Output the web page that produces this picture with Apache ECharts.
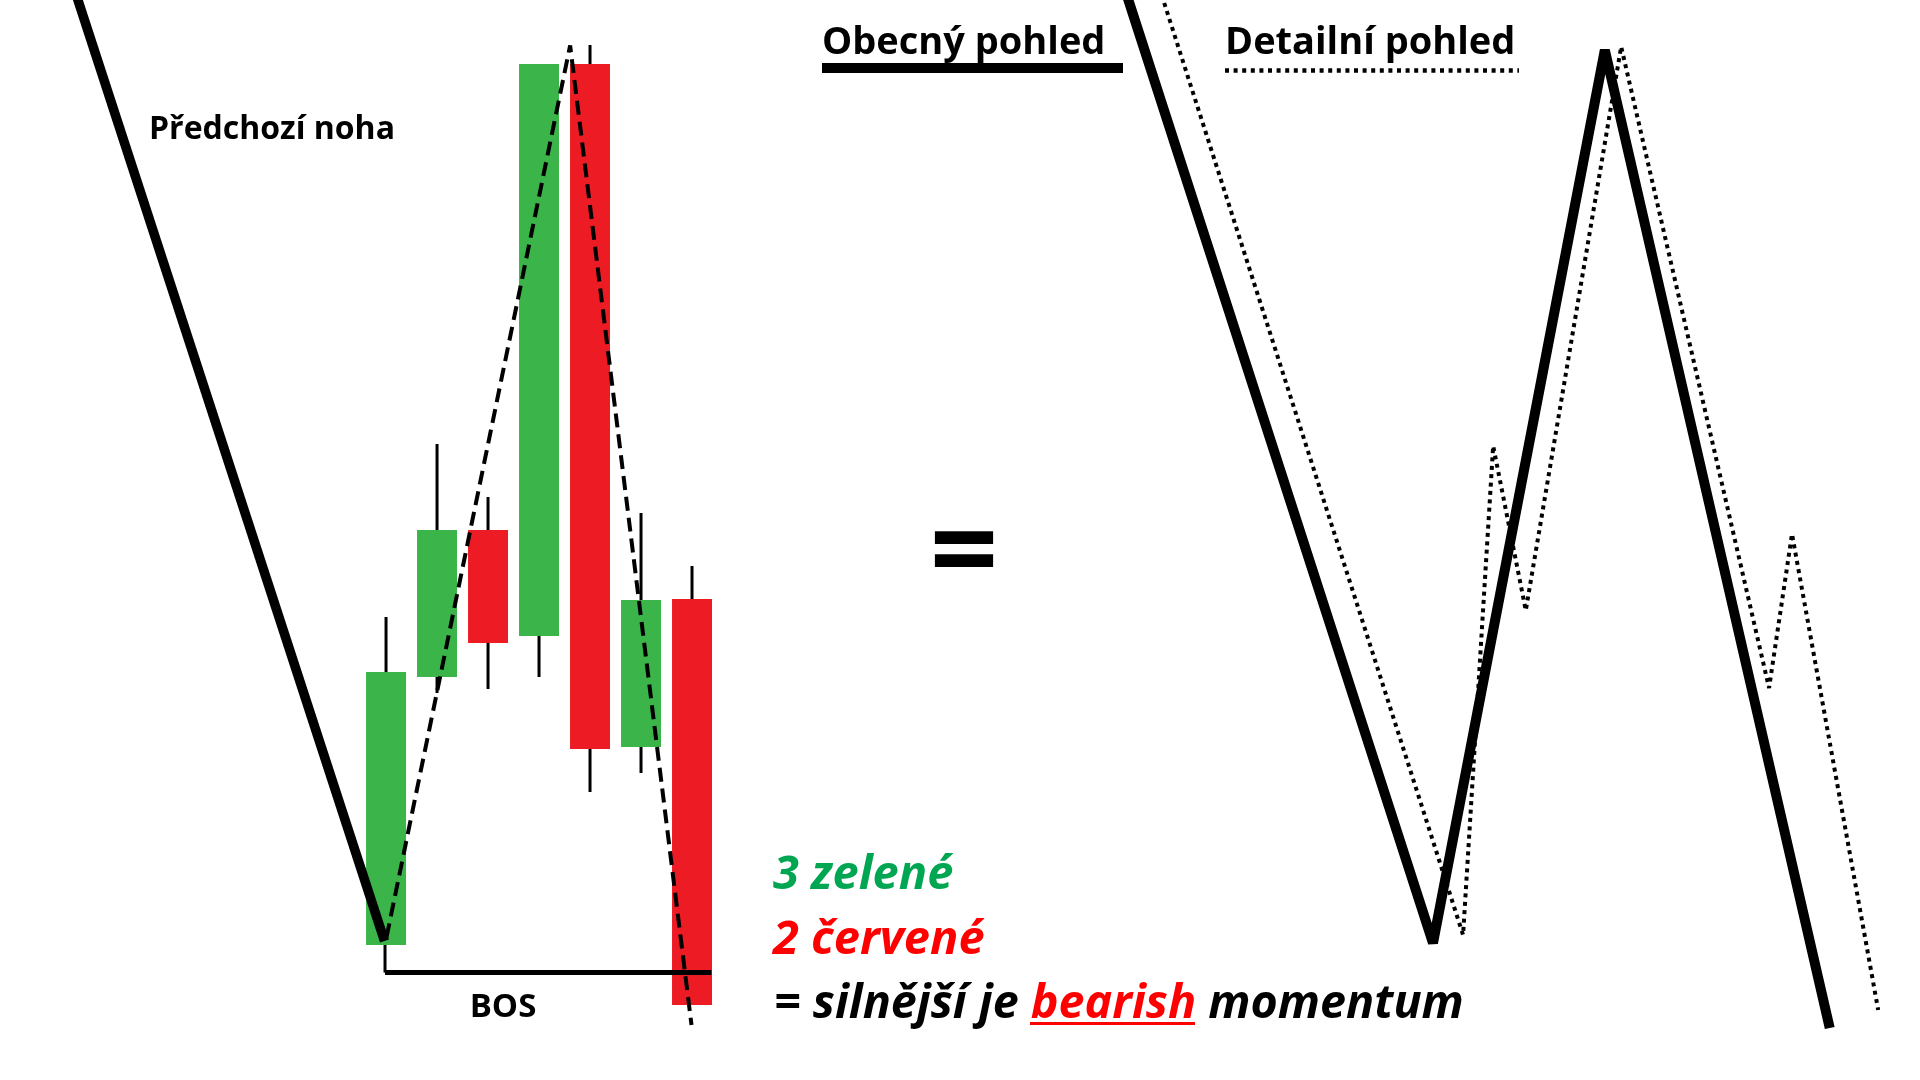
<!DOCTYPE html>
<html>
<head>
<meta charset="utf-8">
<script src="https://cdn.jsdelivr.net/npm/echarts@6/dist/echarts.min.js"></script>
<style>
html,body{margin:0;padding:0;background:#ffffff;}
#chart{width:1920px;height:1080px;}
</style>
</head>
<body>
<div id="chart"></div>
<script>
// ---- candle data (x = candle index, price units) ----
const candleIndex = [0, 1, 2, 3, 4, 5, 6];
const candleOpen  = [13.5, 40.3, 55.0, 44.4, 101.6, 33.3, 48.1];
const candleClose = [40.8, 55.0, 43.7, 101.6, 33.1, 48.0, 7.5];
const candleLow   = [13.5, 38.7, 39.1, 40.3, 28.8, 30.7, 7.5];
const candleHigh  = [46.3, 63.6, 58.3, 101.6, 103.5, 56.7, 51.4];

// ---- swing lines ([x, price]) ----
const previousLeg   = [[-6.17, 110], [-0.03, 13.9]];
const swingDashed   = [[0.01, 14.3], [3.61, 103.45], [5.99, 5.5]];
const bosVertical   = [[-0.02, 13.5], [-0.02, 10.75]];
const bosHorizontal = [[-0.02, 10.75], [6.38, 10.75]];
const generalView   = [[14.43, 110], [20.53, 13.7], [23.90, 103.0], [28.31, 5.2]];
const detailView    = [[15.26, 107.7], [21.12, 14.5], [21.71, 63.4], [22.35, 46.96],
                       [24.22, 103.33], [27.12, 39.2], [27.57, 54.6], [29.26, 7.0]];

// ---- texts ----
const labelPrevLeg = 'Předchozí noha';
const labelBOS = 'BOS';
const titleGeneral = 'Obecný pohled';
const titleDetail = 'Detailní pohled';
const lineGreen = '3 zelené';
const lineRed = '2 červené';
const conclusionParts = ['= silnější je ', 'bearish', ' momentum'];

const upColor = '#3BB54A';
const downColor = '#ED1C24';
const FONT = '"Open Sans", "Noto Sans", sans-serif';

const candleData = candleIndex.map((x, i) => [x, candleOpen[i], candleClose[i], candleLow[i], candleHigh[i]]);

function lineSeries(data, width, type, z) {
  return {
    type: 'line', data: data, symbol: 'none', silent: true, z: z || 3,
    lineStyle: { color: '#000', width: width, type: type || 'solid', cap: 'butt' },
    animation: false
  };
}

const chart = echarts.init(document.getElementById('chart'));
chart.setOption({
  backgroundColor: '#ffffff',
  animation: false,
  grid: { left: 0, right: 0, top: 0, bottom: 0 },
  xAxis: { type: 'value', min: -7.57, max: 30.08, show: false },
  yAxis: { type: 'value', min: 0, max: 108, show: false },
  series: [
    {
      type: 'custom', z: 2, silent: true,
      data: candleData,
      encode: { x: 0, y: [1, 2, 3, 4] },
      renderItem: function (params, api) {
        const x = api.value(0), o = api.value(1), c = api.value(2), l = api.value(3), h = api.value(4);
        const top = api.coord([x, Math.max(o, c)]);
        const bot = api.coord([x, Math.min(o, c)]);
        const hi = api.coord([x, h]);
        const lo = api.coord([x, l]);
        const w = api.size([0.784, 0])[0];
        return {
          type: 'group',
          children: [
            { type: 'line', shape: { x1: hi[0], y1: hi[1], x2: lo[0], y2: lo[1] }, style: { stroke: '#000', lineWidth: 3 } },
            { type: 'rect', shape: { x: top[0] - w / 2, y: top[1], width: w, height: bot[1] - top[1] },
              style: { fill: c >= o ? upColor : downColor } }
          ]
        };
      }
    },
    lineSeries(previousLeg, 9.5, 'solid', 4),
    lineSeries(swingDashed, 4, [14, 7], 5),
    lineSeries(bosVertical, 3, 'solid', 4),
    lineSeries(bosHorizontal, 5, 'solid', 4),
    lineSeries(generalView, 10, 'solid', 4),
    lineSeries(detailView, 4, [4, 4.4], 4)
  ],
  graphic: [
    { type: 'text', left: 149, top: 114, style: { text: labelPrevLeg, font: 'bold 32px ' + FONT, fill: '#000' } },
    { type: 'text', x: 503, y: 1008, style: { text: labelBOS, font: 'bold 33px ' + FONT, fill: '#000', align: 'center', verticalAlign: 'middle' } },
    { type: 'text', x: 822, y: 43, style: { text: titleGeneral, font: 'bold 38px ' + FONT, fill: '#000', verticalAlign: 'middle' } },
    { type: 'line', shape: { x1: 822, y1: 68, x2: 1123, y2: 68 }, style: { stroke: '#000', lineWidth: 10 } },
    { type: 'text', x: 1225, y: 43, style: { text: titleDetail, font: 'bold 38px ' + FONT, fill: '#000', verticalAlign: 'middle' } },
    { type: 'line', shape: { x1: 1225, y1: 70.5, x2: 1519, y2: 70.5 }, style: { stroke: '#000', lineWidth: 4.3, lineDash: [4, 4.6] } },
    { type: 'text', x: 964, y: 558, style: { text: '=', font: 'bold 120px ' + FONT, fill: '#000', align: 'center', verticalAlign: 'middle' } },
    { type: 'text', x: 773, y: 876, style: { text: lineGreen, font: 'italic bold 47px ' + FONT, fill: '#00A651', verticalAlign: 'middle' } },
    { type: 'text', x: 773, y: 940.6, style: { text: lineRed, font: 'italic bold 47px ' + FONT, fill: '#FF0000', verticalAlign: 'middle' } },
    { type: 'text', x: 774, y: 1005, style: {
        text: '{a|' + conclusionParts[0] + '}{b|' + conclusionParts[1] + '}{a|' + conclusionParts[2] + '}',
        verticalAlign: 'middle',
        rich: {
          a: { font: 'italic bold 46.7px ' + FONT, fill: '#000' },
          b: { font: 'italic bold 46.7px ' + FONT, fill: '#FF0000' }
        }
      } },
    { type: 'line', shape: { x1: 1030, y1: 1023.5, x2: 1195, y2: 1023.5 }, style: { stroke: '#FF0000', lineWidth: 3 } }
  ]
});
</script>
</body>
</html>
